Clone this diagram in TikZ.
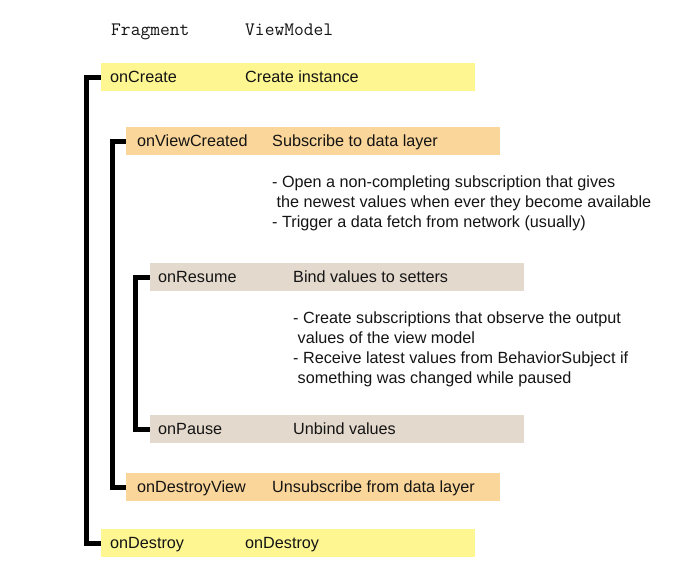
\documentclass[tikz,border=0pt]{standalone}
\usepackage{fontspec}
\setmainfont{Liberation Sans}
\definecolor{cyel}{RGB}{253,246,145}
\definecolor{cora}{RGB}{251,214,154}
\definecolor{cbei}{RGB}{227,217,204}
\definecolor{ctxt}{RGB}{20,20,20}
\begin{document}
\begin{tikzpicture}[x=1pt,y=-1pt,
  bar/.style={rectangle,draw=none,minimum width=374pt,minimum height=28pt,inner sep=0pt},
  lbl/.style={anchor=base west,inner sep=0pt,font=\fontsize{16.2}{20}\selectfont,text=ctxt},
  desc/.style={anchor=base west,inner sep=0pt,align=left,font=\fontsize{16.2}{19.7}\selectfont,text=ctxt},
  hdr/.style={anchor=base west,inner sep=0pt,font=\fontsize{19}{22}\ttfamily,text=ctxt},
  bracket/.style={line width=5pt,black,line join=miter}]
\useasboundingbox (0,0) rectangle (679,586);
% headers
\node[hdr] (hf) at (111,36) {Fragment};
\node[hdr] (hv) at (245,36) {ViewModel};
% bars
\node[bar,fill=cyel] (b1) at (288,77) {};
\node[bar,fill=cora] (b2) at (313,141) {};
\node[bar,fill=cbei] (b3) at (337,277) {};
\node[bar,fill=cbei] (b4) at (337,429) {};
\node[bar,fill=cora] (b5) at (313,487) {};
\node[bar,fill=cyel] (b6) at (288,543) {};
% labels
\node[lbl] (l1) at (110,82) {onCreate};
\node[lbl] (r1) at (245,82) {Create instance};
\node[lbl] (l2) at (137,146) {onViewCreated};
\node[lbl] (r2) at (272,146) {Subscribe to data layer};
\node[lbl] (l3) at (158,282) {onResume};
\node[lbl] (r3) at (293,282) {Bind values to setters};
\node[lbl] (l4) at (158,434) {onPause};
\node[lbl] (r4) at (293,434) {Unbind values};
\node[lbl] (l5) at (137,492) {onDestroyView};
\node[lbl] (r5) at (272,492) {Unsubscribe from data layer};
\node[lbl] (l6) at (110,548) {onDestroy};
\node[lbl] (r6) at (245,548) {onDestroy};
% descriptions (base anchor = baseline of last line)
\node[desc] (d1) at (272,227) {- Open a non-completing subscription that gives\\ \ the newest values when ever they become available\\- Trigger a data fetch from network (usually)};
\node[desc] (d2) at (293,383) {- Create subscriptions that observe the output\\ \ values of the view model\\- Receive latest values from BehaviorSubject if\\ \ something was changed while paused};
% brackets
\draw[bracket] (b1.west) -- ++(-14.5,0) |- (b6.west);
\draw[bracket] (b2.west) -- ++(-13.5,0) |- (b5.west);
\draw[bracket] (b3.west) -- ++(-14.5,0) |- (b4.west);
\end{tikzpicture}
\end{document}
